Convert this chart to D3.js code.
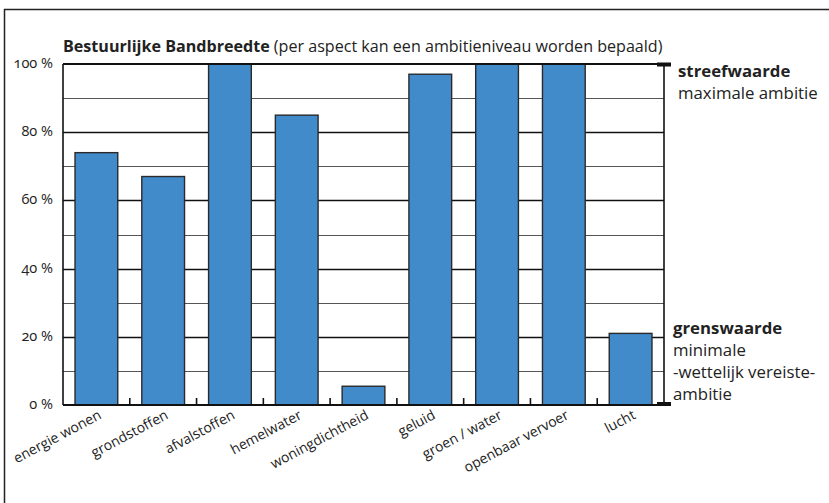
<!DOCTYPE html>
<html><head><meta charset="utf-8">
<script src="https://cdn.jsdelivr.net/npm/d3@7"></script>
<style>
body{margin:0;background:#fff;}
svg{display:block;font-family:"Open Sans",sans-serif;}
.num{font-variant-numeric:oldstyle-nums;font-feature-settings:"onum" 1;}
</style></head><body>
<svg id="c" width="829" height="503"></svg>
<script>
const categories = ["energie wonen","grondstoffen","afvalstoffen","hemelwater","woningdichtheid","geluid","groen / water","openbaar vervoer","lucht"];
const values = [74, 67, 100, 85, 5.5, 97, 100, 100, 21];
const yTicks = [0, 20, 40, 60, 80, 100];
const gridTicks = [10, 30, 50, 70, 90];
const titleBold = "Bestuurlijke Bandbreedte";
const titleRest = " (per aspect kan een ambitieniveau worden bepaald)";
const topLabel = ["streefwaarde", "maximale ambitie"];
const bottomLabel = ["grenswaarde", "minimale", "-wettelijk vereiste-", "ambitie"];

const svg = d3.select("#c");
const m = {l:63, r:664, t:64, b:405};
const x = d3.scaleBand().domain(categories).range([m.l, m.r]).paddingInner(0.36).paddingOuter(0.18);
const y = d3.scaleLinear().domain([0,100]).range([m.b, m.t]);
const txt = "#222";

// outer frame (top & left)
svg.append("line").attr("x1",4).attr("x2",829).attr("y1",9.5).attr("y2",9.5).attr("stroke","#222").attr("stroke-width",1.5);
svg.append("line").attr("x1",4.5).attr("x2",4.5).attr("y1",9).attr("y2",503).attr("stroke","#222").attr("stroke-width",1.5);

// gridlines
svg.append("g").selectAll("line").data(gridTicks).join("line")
  .attr("x1",m.l).attr("x2",m.r).attr("y1",d=>Math.round(y(d))+0.5).attr("y2",d=>Math.round(y(d))+0.5)
  .attr("stroke","#555").attr("stroke-width",1);
svg.append("g").selectAll("line").data(yTicks.filter(d=>d>0&&d<100)).join("line")
  .attr("x1",m.l).attr("x2",m.r).attr("y1",d=>Math.round(y(d))+0.5).attr("y2",d=>Math.round(y(d))+0.5)
  .attr("stroke","#111").attr("stroke-width",1.6);

// bars
svg.append("g").selectAll("rect").data(values).join("rect")
  .attr("x",(d,i)=>x(categories[i])).attr("width",x.bandwidth())
  .attr("y",d=>y(d)).attr("height",d=>y(0)-y(d))
  .attr("fill","#428bcb").attr("stroke","#2a2a2a").attr("stroke-width",1.4);

// left and right vertical lines, top and bottom lines
svg.append("line").attr("x1",m.l).attr("x2",m.l).attr("y1",m.t).attr("y2",m.b).attr("stroke","#111").attr("stroke-width",1.6);
svg.append("line").attr("x1",m.r).attr("x2",m.r).attr("y1",m.t).attr("y2",m.b).attr("stroke","#111").attr("stroke-width",1.6);
svg.append("line").attr("x1",m.l).attr("x2",m.r).attr("y1",y(100)).attr("y2",y(100)).attr("stroke","#111").attr("stroke-width",2.2);
svg.append("line").attr("x1",m.l).attr("x2",m.r).attr("y1",y(0)).attr("y2",y(0)).attr("stroke","#111").attr("stroke-width",2.2);

// bottom ticks at band boundaries
const step = x.step();
const bounds = categories.slice(1).map(c => x(c) - (step - x.bandwidth())/2);
svg.append("g").selectAll("line").data(bounds).join("line")
  .attr("x1",d=>d).attr("x2",d=>d).attr("y1",y(0)-7).attr("y2",y(0))
  .attr("stroke","#111").attr("stroke-width",1.6);

// right markers
svg.append("rect").attr("x",m.r-7).attr("y",y(100)-1.5).attr("width",14).attr("height",4).attr("fill","#111");
svg.append("rect").attr("x",m.r-7).attr("y",y(0)-3).attr("width",14).attr("height",4).attr("fill","#111");

// y tick labels
svg.append("g").selectAll("text").data(yTicks).join("text")
  .attr("class","num")
  .attr("x",53).attr("y",d=>y(d)+4).attr("text-anchor","end")
  .attr("font-size",14.5).attr("fill",txt).text(d=>d+" %");

// x labels
svg.append("g").selectAll("text").data(categories).join("text")
  .attr("text-anchor","end").attr("font-size",14).attr("fill",txt)
  .attr("transform",d=>`translate(${x(d)+x.bandwidth()/2+6},${y(0)+13}) rotate(-28)`)
  .text(d=>d);

// title
const t = svg.append("text").attr("x",m.l).attr("y",52).attr("font-size",16.1).attr("fill",txt);
t.append("tspan").attr("font-weight","bold").text(titleBold);
t.append("tspan").text(titleRest);

// right labels
const rl = svg.append("g").attr("font-size",16.8).attr("fill",txt);
topLabel.forEach((s,i)=>rl.append("text").attr("x",678).attr("y",y(100)+13+i*22).attr("font-weight",i===0?"bold":"normal").text(s));
bottomLabel.forEach((s,i)=>rl.append("text").attr("x",673).attr("y",y(21)+1+i*22).attr("font-weight",i===0?"bold":"normal").text(s));
</script></body></html>
